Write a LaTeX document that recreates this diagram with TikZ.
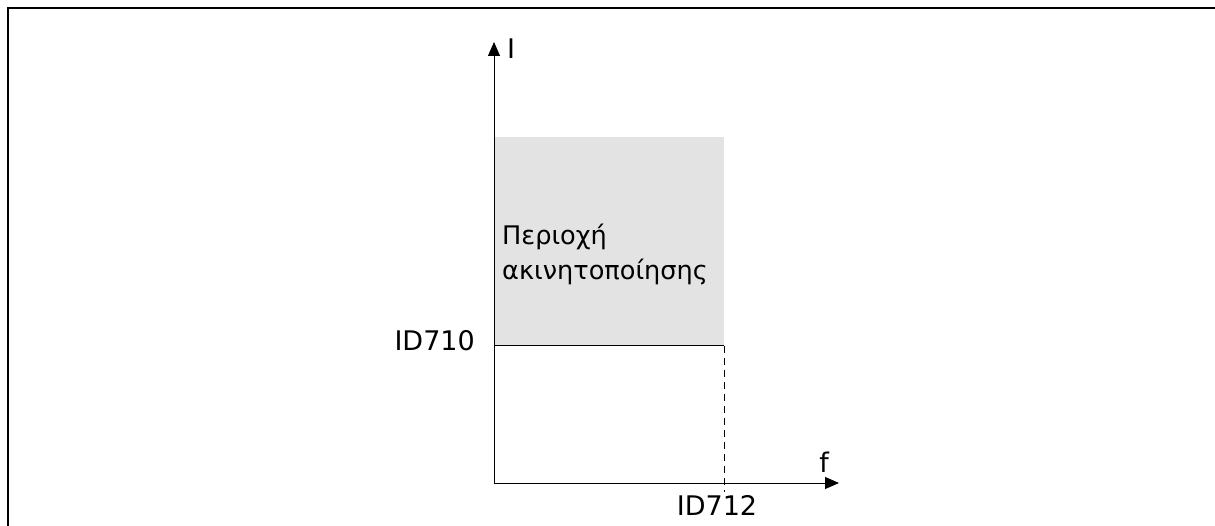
\documentclass[tikz,border=0pt]{standalone}
\usepackage{fontspec}
\setmainfont{DejaVu Sans}
\usetikzlibrary{arrows.meta, positioning}

\begin{document}
\begin{tikzpicture}[x=1pt, y=-1pt,
  ax/.style={line width=1pt, -{Triangle[length=14pt,width=12pt]}},
  lbl/.style={font=\fontsize{27}{30}\selectfont, inner sep=0pt},
  zone/.style={fill=black!11, draw=none},
  lim/.style={line width=1pt},
  guide/.style={line width=1pt, dash pattern=on 7pt off 5pt}]
  \useasboundingbox (0,0) rectangle (1215,526);
  % frame
  \draw[line width=2.5pt] (8,526) -- (8,8) -- (1215,8);
  % stall zone
  \coordinate (o) at (494,483);
  \coordinate (zt) at (494,137);
  \coordinate (zc) at (724,346);
  \coordinate (zl) at (494,346);
  \coordinate (dd) at (724,492);
  \fill[zone] (zt) rectangle (zc);
  \draw[lim] (zl) -- (zc);
  \draw[guide] (zc) -- (dd);
  % axes
  \coordinate (yt) at (494,42);
  \coordinate (xt) at (839,483);
  \draw[ax] (o) -- (yt);
  \draw[ax] (o) -- (xt);
  % labels
  \node[lbl, anchor=west] (li) at (507,49) {I};
  \node[lbl] (lf) at (824,462) {f};
  \node[lbl] (l712) at (717,505) {ID712};
  \node[lbl, anchor=east] (l710) at (475,341) {ID710};
  \node[lbl, font=\fontsize{25.6}{35}\selectfont, align=left, anchor=base west] (lz) at (502,280)
    {Περιοχή\\ακινητοποίησης};
\end{tikzpicture}
\end{document}
